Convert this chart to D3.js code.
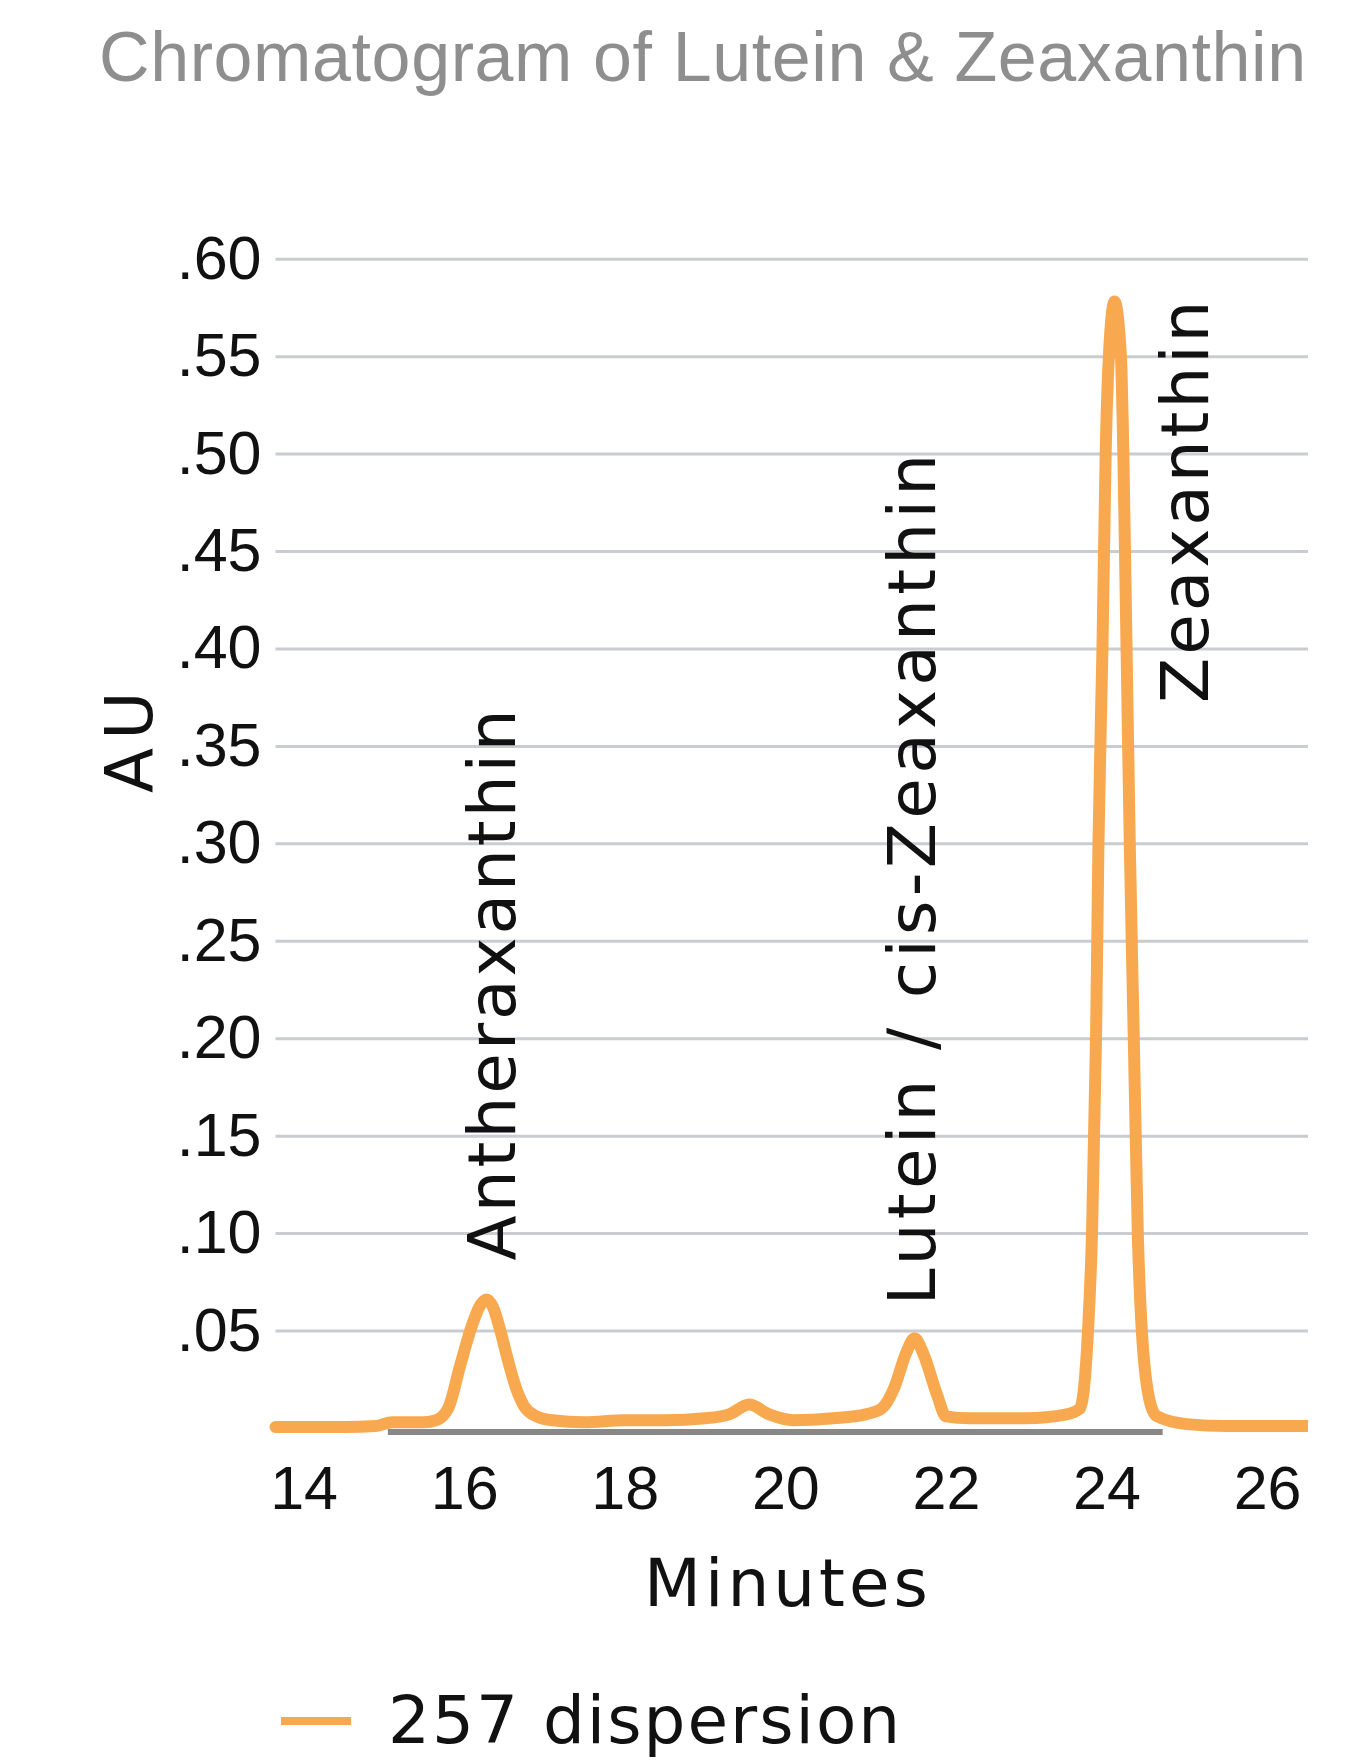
<!DOCTYPE html>
<html>
<head>
<meta charset="utf-8">
<script src="https://cdn.jsdelivr.net/npm/d3@7"></script>
<style>
  body { margin: 0; background: #fff; }
</style>
</head>
<body>
<script>
let width = 1345;
let height = 1763;

// plot box
let plotLeft = 275.5, plotRight = 1308;
let plotTop = 258.7, plotBottom = 1428;

const titleText = "Chromatogram of Lutein & Zeaxanthin";
const xLabel = "Minutes";
const yLabel = "AU";
const seriesName = "257 dispersion";

const xTicks = [14, 16, 18, 20, 22, 24, 26];
const yTicks = [0.05, 0.10, 0.15, 0.20, 0.25, 0.30, 0.35, 0.40, 0.45, 0.50, 0.55, 0.60];

// trace: minutes, AU
const minutes = [13.65, 14.5, 14.9, 15.1, 15.5, 15.65, 15.8, 15.95, 16.1, 16.2, 16.28, 16.36, 16.45, 16.55, 16.65,
  16.75, 16.9, 17.1, 17.5, 18.0, 18.5, 19.0, 19.3, 19.55, 19.8, 20.1, 20.6, 21.0, 21.2, 21.36, 21.5, 21.61, 21.72,
  21.89, 22.0, 22.3, 23.0, 23.5, 23.67, 23.77, 23.82, 23.87, 23.9, 23.95, 23.99, 24.03, 24.1, 24.18, 24.21,
  24.25, 24.29, 24.34, 24.39, 24.44, 24.55, 24.63, 25.0, 25.5, 26.51];
const au = [0.0005, 0.0005, 0.001, 0.003, 0.003, 0.004, 0.010, 0.032, 0.053, 0.063, 0.066, 0.062, 0.050, 0.034, 0.020,
  0.011, 0.006, 0.004, 0.003, 0.004, 0.004, 0.005, 0.007, 0.012, 0.007, 0.004, 0.005, 0.007, 0.010, 0.021, 0.038, 0.046, 0.038,
  0.017, 0.006, 0.005, 0.005, 0.007, 0.010, 0.05, 0.10, 0.20, 0.30, 0.40, 0.50, 0.55, 0.578, 0.55, 0.50,
  0.40, 0.30, 0.20, 0.10, 0.05, 0.012, 0.006, 0.002, 0.001, 0.001];

// grey integration baseline under the peaks
const baseStart = [15.05];
const baseEnd = [24.7];
const baseLevel = -0.002;

// peak names, where their rotated labels sit (minutes, AU at the bottom end)
const peakNames = ["Antheraxanthin", "Lutein / cis-Zeaxanthin", "Zeaxanthin"];
const peakX = [16.63, 21.86, 25.27];
const peakY = [0.086, 0.063, 0.372];

let data = minutes.map((m, i) => ({ x: m, y: au[i] }));

let svg = d3.select("body").append("svg")
  .attr("width", width)
  .attr("height", height);

svg.append("defs").append("clipPath").attr("id", "cut")
  .append("rect").attr("x", 0).attr("y", 0).attr("width", plotRight).attr("height", height);

let g = svg.append("g").attr("clip-path", "url(#cut)");

let scaleX = d3.scaleLinear().domain([13.65, 26.51]).range([plotLeft, plotRight]);
let scaleY = d3.scaleLinear().domain([0, 0.6]).range([plotBottom, plotTop]);

// title
g.append("text")
  .attr("x", 99)
  .attr("y", 81)
  .style("font-family", "'Liberation Sans', Arial, sans-serif")
  .style("font-size", "70px")
  .style("letter-spacing", "0.6px")
  .style("fill", "#8e8e8e")
  .text(titleText);

// y axis with gridlines
let axisY = d3.axisLeft(scaleY)
  .tickValues(yTicks)
  .tickSize(-(plotRight - plotLeft))
  .tickPadding(14)
  .tickFormat(d => d3.format(".2f")(d).replace(/^0/, ""));

let gy = g.append("g")
  .attr("transform", `translate(${plotLeft},0)`)
  .call(axisY);
gy.select(".domain").remove();
gy.selectAll("line").attr("stroke", "#c9ccd0").attr("stroke-width", 3);
gy.selectAll("text")
  .style("font-family", "'Liberation Sans', Arial, sans-serif")
  .style("font-size", "61px")
  .attr("fill", "#111");

// x axis, labels only
let axisX = d3.axisBottom(scaleX)
  .tickValues(xTicks)
  .tickSize(0)
  .tickPadding(38);

let gx = g.append("g")
  .attr("transform", `translate(0,${plotBottom})`)
  .call(axisX);
gx.select(".domain").remove();
gx.selectAll("text")
  .style("font-family", "'Liberation Sans', Arial, sans-serif")
  .style("font-size", "61px")
  .attr("fill", "#111");

// integration baseline
g.selectAll(".base")
  .data(baseStart)
  .enter().append("line")
  .attr("x1", (d) => scaleX(d))
  .attr("x2", (d, i) => scaleX(baseEnd[i]))
  .attr("y1", scaleY(baseLevel))
  .attr("y2", scaleY(baseLevel))
  .attr("stroke", "#888888")
  .attr("stroke-width", 6);

// the trace
let line = d3.line()
  .x(d => scaleX(d.x))
  .y(d => scaleY(d.y))
  .curve(d3.curveMonotoneX);

g.append("path")
  .datum(data)
  .attr("d", line)
  .attr("fill", "none")
  .attr("stroke", "#f8a94f")
  .attr("stroke-width", 12)
  .attr("stroke-linejoin", "round")
  .attr("stroke-linecap", "round");

let labelFont = "'DejaVu Sans', Verdana, sans-serif";

// peak labels, rotated (the long one is set a bit looser in the original)
peakNames.forEach((name, i) => {
  g.append("text")
    .attr("transform", `translate(${scaleX(peakX[i])},${scaleY(peakY[i])}) rotate(-90)`)
    .style("font-family", labelFont)
    .style("font-size", "66px")
    .style("letter-spacing", name.includes(" ") ? "4.3px" : "3px")
    .attr("fill", "#111")
    .text(name);
});

// axis titles
g.append("text")
  .attr("transform", "translate(152,793) rotate(-90)")
  .style("font-family", labelFont)
  .style("font-size", "66px")
  .style("letter-spacing", "8px")
  .attr("fill", "#111")
  .text(yLabel);

g.append("text")
  .attr("x", 788)
  .attr("y", 1606)
  .attr("text-anchor", "middle")
  .style("font-family", labelFont)
  .style("font-size", "66px")
  .style("letter-spacing", "4px")
  .attr("fill", "#111")
  .text(xLabel);

// legend
g.append("line")
  .attr("x1", 281).attr("x2", 351)
  .attr("y1", 1721).attr("y2", 1721)
  .attr("stroke", "#f8a94f")
  .attr("stroke-width", 8);

g.append("text")
  .attr("x", 388)
  .attr("y", 1743)
  .style("font-family", labelFont)
  .style("font-size", "66px")
  .style("letter-spacing", "2px")
  .attr("fill", "#111")
  .text(seriesName);
</script>
</body>
</html>
